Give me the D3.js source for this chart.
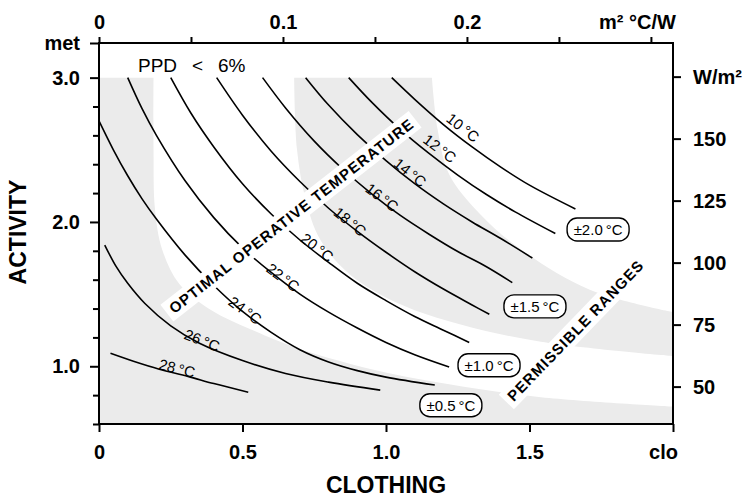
<!DOCTYPE html>
<html lang="en">
<head>
  <meta charset="utf-8">
  <title>Optimal operative temperature vs activity and clothing</title>
  <style>
    body { margin: 0; background: #fff; }
    text { font-family: "Liberation Sans", Arial, Helvetica, sans-serif; }
  </style>
</head>
<body>
  <script src="https://cdnjs.cloudflare.com/ajax/libs/d3/7.8.5/d3.min.js"></script>
  <script>
  // optimal operative temperature lines, [clo, met]
  const temps = [10, 12, 14, 16, 18, 20, 22, 24, 26, 28];
  const c10 = [[1.02, 3.00], [1.10, 2.85], [1.20, 2.675], [1.30, 2.52], [1.40, 2.38], [1.50, 2.255], [1.66, 2.09]];
  const c12 = [[0.87, 3.00], [0.95, 2.83], [1.05, 2.64], [1.15, 2.475], [1.25, 2.325], [1.35, 2.19], [1.45, 2.07], [1.59, 1.92]];
  const c14 = [[0.72, 3.00], [0.80, 2.81], [0.90, 2.605], [1.00, 2.425], [1.10, 2.265], [1.20, 2.125], [1.30, 2.0], [1.40, 1.885], [1.51, 1.75]];
  const c16 = [[0.57, 3.00], [0.65, 2.79], [0.75, 2.56], [0.85, 2.365], [0.95, 2.195], [1.05, 2.045], [1.15, 1.915], [1.25, 1.795], [1.35, 1.69], [1.44, 1.58]];
  const c18 = [[0.41, 3.00], [0.50, 2.74], [0.60, 2.49], [0.70, 2.28], [0.80, 2.095], [0.90, 1.935], [1.00, 1.79], [1.10, 1.655], [1.20, 1.535], [1.30, 1.425], [1.36, 1.36]];
  const c20 = [[0.25, 3.00], [0.32, 2.755], [0.40, 2.52], [0.50, 2.265], [0.60, 2.055], [0.70, 1.875], [0.80, 1.72], [0.90, 1.575], [1.00, 1.455], [1.10, 1.345], [1.20, 1.25], [1.29, 1.165]];
  const c22 = [[0.10, 3.00], [0.15, 2.785], [0.20, 2.60], [0.30, 2.285], [0.40, 2.03], [0.50, 1.82], [0.60, 1.65], [0.70, 1.50], [0.80, 1.375], [0.90, 1.265], [1.00, 1.165], [1.10, 1.08], [1.22, 0.995]];
  const c24 = [[0.00, 2.70], [0.05, 2.50], [0.10, 2.32], [0.15, 2.16], [0.20, 2.02], [0.30, 1.77], [0.40, 1.56], [0.50, 1.38], [0.60, 1.235], [0.70, 1.115], [0.80, 1.03], [0.90, 0.97], [1.00, 0.925], [1.17, 0.87]];
  const c26 = [[0.02, 1.84], [0.06, 1.69], [0.10, 1.575], [0.16, 1.435], [0.25, 1.28], [0.35, 1.16], [0.50, 1.04], [0.65, 0.95], [0.80, 0.89], [0.98, 0.835]];
  const c28 = [[0.04, 1.09], [0.12, 1.035], [0.21, 0.98], [0.31, 0.93], [0.40, 0.88], [0.52, 0.82]];
  const curveData = [c10, c12, c14, c16, c18, c20, c22, c24, c26, c28];

  // where the temperature labels sit
  const labelClo = [1.268, 1.188, 1.084, 0.986, 0.875, 0.760, 0.641, 0.509, 0.359, 0.272];
  const labelMet = [2.654, 2.509, 2.343, 2.170, 2.003, 1.824, 1.616, 1.388, 1.180, 0.986];

  // edges of the shaded permissible-range bands
  const bandA = [[0.19, 3.0], [0.19, 2.5], [0.195, 2.09], [0.22, 1.81], [0.28, 1.57], [0.39, 1.39], [0.53, 1.255], [0.70, 1.12], [0.98, 0.965], [1.22, 0.875], [1.54, 0.785], [2.0, 0.72]];
  const bandB = [[0.68, 3.0], [0.69, 2.5], [0.72, 2.155], [0.77, 1.88], [0.875, 1.635], [1.05, 1.43], [1.26, 1.29], [1.54, 1.17], [2.0, 1.07]];
  const bandC = [[1.16, 3.0], [1.18, 2.64], [1.22, 2.33], [1.33, 2.05], [1.47, 1.81], [1.71, 1.53], [2.0, 1.375]];

  // tolerance boxes
  const tolText = ["±0.5", "±1.0", "±1.5", "±2.0"];
  const tolClo = [1.226, 1.359, 1.519, 1.739];
  const tolMet = [0.73, 1.007, 1.415, 1.948];

  // axis ticks
  const cloTicks = [0, 0.5, 1.0, 1.5, 2.0];
  const metTicks = [1.0, 2.0, 3.0, 3.24];
  const metMinor = [0.6, 0.8, 1.2, 1.4, 1.6, 1.8, 2.2, 2.4, 2.6, 2.8];
  const resTicks = [0, 0.1, 0.2, 0.3];
  const resMinor = [0.05, 0.15, 0.25];
  const wTicks = [50, 75, 100, 125, 150, 175];

  const margin = {top: 43, right: 76, bottom: 77, left: 99},
        width = 749 - margin.left - margin.right,
        height = 501 - margin.top - margin.bottom;

  const svg = d3.select("body")
    .append("svg")
    .attr("width", 749)
    .attr("height", 501);

  const g = svg.append("g")
    .attr("transform", `translate(${margin.left}, ${margin.top})`);

  const x = d3.scaleLinear().domain([0, 2]).range([0, width]);
  const y = d3.scaleLinear().domain([0.6, 3.24]).range([height, 0]);
  const xTop = d3.scaleLinear().domain([0, 2 * 0.156]).range([0, width]);
  const yRight = d3.scaleLinear().domain([0.6 * 58.2, 3.24 * 58.2]).range([height, 0]);

  const edge = d3.line()
    .x(d => x(d[0]))
    .y(d => y(d[1]))
    .curve(d3.curveCatmullRom.alpha(0.5));

  // shaded bands
  g.append("path")
    .attr("d", edge(bandA) + `L${x(2)},${y(0.6)}L${x(0)},${y(0.6)}L${x(0)},${y(3)}Z`)
    .attr("fill", "#ebebeb");

  g.append("path")
    .attr("d", edge(bandB) + "L" + edge(bandC.slice().reverse()).slice(1) + "Z")
    .attr("fill", "#ebebeb");

  // temperature lines
  g.selectAll(".tline")
    .data(curveData)
    .enter()
    .append("path")
    .attr("class", "tline")
    .attr("d", edge)
    .attr("fill", "none")
    .attr("stroke", "#000")
    .attr("stroke-width", 1.6);

  function angleAt(pts, c) {
    let i = d3.bisector(d => d[0]).left(pts, c);
    i = Math.max(1, Math.min(pts.length - 1, i));
    const a = pts[i - 1], b = pts[i];
    return Math.atan2(y(b[1]) - y(a[1]), x(b[0]) - x(a[0])) * 180 / Math.PI;
  }

  g.selectAll(".tlabel")
    .data(temps)
    .enter()
    .append("text")
    .attr("class", "tlabel")
    .attr("transform", (d, i) => `translate(${x(labelClo[i])},${y(labelMet[i])}) rotate(${angleAt(curveData[i], labelClo[i])})`)
    .attr("text-anchor", "middle")
    .attr("dy", "0.36em")
    .style("font-size", "15px")
    .text(d => `${d}\u2009°C`);

  // rotated captions on white boxes
  function caption(cx, cy, angle, len, txt) {
    const cap = g.append("g")
      .attr("transform", `translate(${cx},${cy}) rotate(${angle})`);
    cap.append("rect")
      .attr("x", -len / 2 - 5)
      .attr("y", -10.5)
      .attr("width", len + 10)
      .attr("height", 21)
      .attr("fill", "#fff");
    cap.append("text")
      .attr("x", -len / 2)
      .attr("y", 0)
      .attr("dy", "0.36em")
      .attr("textLength", len)
      .attr("lengthAdjust", "spacing")
      .style("font-size", "15px")
      .style("font-weight", "bold")
      .text(txt);
  }
  caption(x(0.669), y(2.04), -38, 305, "OPTIMAL OPERATIVE TEMPERATURE");
  caption(x(1.659), y(1.246), -46, 188, "PERMISSIBLE RANGES");

  // tolerance boxes
  const tol = g.selectAll(".tol")
    .data(tolText)
    .enter()
    .append("g")
    .attr("class", "tol")
    .attr("transform", (d, i) => `translate(${x(tolClo[i])},${y(tolMet[i])})`);

  tol.append("rect")
    .attr("x", -31)
    .attr("y", -11.5)
    .attr("width", 62)
    .attr("height", 23)
    .attr("rx", 10)
    .attr("fill", "#fff")
    .attr("stroke", "#000")
    .attr("stroke-width", 1.4);

  tol.append("text")
    .attr("text-anchor", "middle")
    .attr("dy", "0.36em")
    .style("font-size", "15px")
    .text(d => `${d}\u2009°C`);

  // PPD note
  const ppd = g.append("text")
    .attr("y", 29)
    .style("font-size", "19px");
  ppd.append("tspan").attr("x", 39).text("PPD");
  ppd.append("tspan").attr("x", 93).text("<");
  ppd.append("tspan").attr("x", 119).text("6%");

  // frame
  g.append("rect")
    .attr("width", width)
    .attr("height", height)
    .attr("fill", "none")
    .attr("stroke", "#000")
    .attr("stroke-width", 2);

  function styleAxis(sel) {
    sel.select(".domain").remove();
    sel.attr("font-family", null).attr("font-size", null);
    sel.selectAll("line").attr("stroke", "#000").attr("stroke-width", 2);
    sel.selectAll("text")
      .attr("fill", "#000")
      .style("font-size", "20px")
      .style("font-weight", "bold");
  }

  g.append("g")
    .call(d3.axisLeft(y).tickValues(metTicks).tickSize(9).tickPadding(10)
      .tickFormat(d => d === 3.24 ? "met" : d3.format(".1f")(d)))
    .call(styleAxis);

  g.append("g")
    .call(d3.axisLeft(y).tickValues(metMinor).tickSize(6).tickFormat(""))
    .call(styleAxis);

  g.append("g")
    .attr("transform", `translate(${width},0)`)
    .call(d3.axisRight(yRight).tickValues(wTicks).tickSize(8).tickPadding(12)
      .tickFormat(d => d === 175 ? "W/m²" : d))
    .call(styleAxis);

  const bottomAxis = g.append("g")
    .attr("transform", `translate(0,${height})`)
    .call(d3.axisBottom(x).tickValues(cloTicks).tickSize(8).tickPadding(13)
      .tickFormat(d => d === 2 ? "clo" : d === 0 ? "0" : d3.format(".1f")(d)))
    .call(styleAxis);
  bottomAxis.selectAll(".tick text").filter(d => d === 2).attr("dx", -10);

  const topAxis = g.append("g")
    .call(d3.axisTop(xTop).tickValues(resTicks).tickSize(6).tickPadding(8)
      .tickFormat(d => d === 0.3 ? "m² °C/W" : d === 0 ? "0" : d3.format(".1f")(d)))
    .call(styleAxis);
  topAxis.selectAll(".tick text").filter(d => d === 0.3).attr("dx", -14);

  g.append("g")
    .call(d3.axisTop(xTop).tickValues(resMinor).tickSize(6).tickFormat(""))
    .call(styleAxis);

  // axis titles
  svg.append("text")
    .attr("transform", `translate(26, 232) rotate(-90)`)
    .attr("text-anchor", "middle")
    .style("font-size", "23px")
    .style("font-weight", "bold")
    .text("ACTIVITY");

  svg.append("text")
    .attr("x", margin.left + x(1))
    .attr("y", 493)
    .attr("text-anchor", "middle")
    .style("font-size", "23px")
    .style("font-weight", "bold")
    .text("CLOTHING");
  </script>
</body>
</html>
